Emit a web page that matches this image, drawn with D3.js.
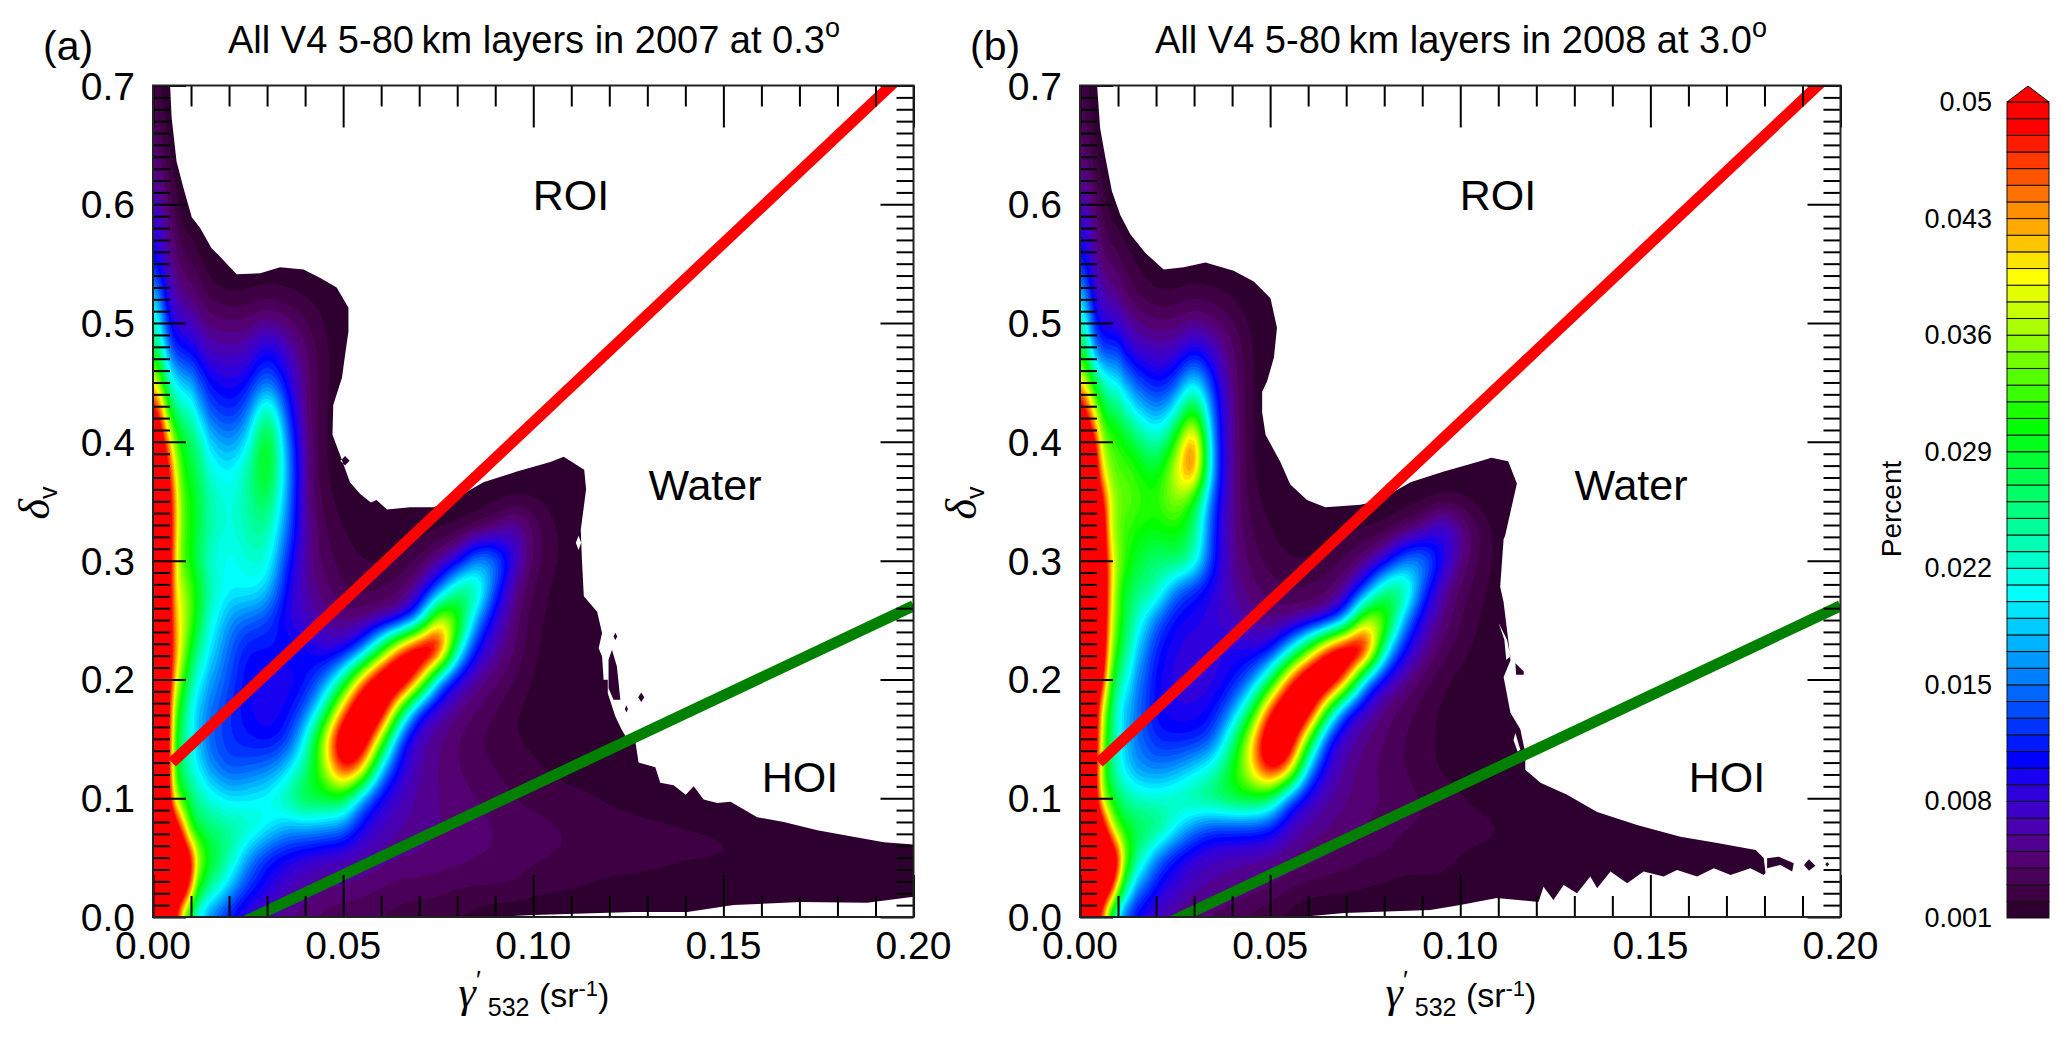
<!DOCTYPE html>
<html>
<head>
<meta charset="utf-8">
<script src="https://cdn.jsdelivr.net/npm/d3@7"></script>
<style>
  html, body { margin: 0; background: #fff; }
  text { font-family: "Liberation Sans", Arial, sans-serif; fill: #000; }
  .greek { font-family: "Liberation Serif", serif; font-style: italic; }
  .domain { display: none; }
  .tick line { stroke: #000; stroke-width: 2; }
</style>
</head>
<body>
<script>
// grid of the density fields. units of 0.001 percent
var xGrid = [0,.002,.004,.006,.008,.01,.012,.015,.02,.025,.03,.035,.04,.045,.05,.055,.06,.065,.07,.075,.08,.085,.09,.095,.1,.105,.11,.115,.12,.13,.14,.16,.18,.2];
var yGrid = [.7,.675,.65,.625,.6,.575,.55,.525,.5,.475,.45,.425,.4,.375,.35,.325,.3,.275,.25,.225,.2,.175,.15,.125,.1,.075,.05,.025,0];

var gridA = [
[3,2,1,1,1,1,1,1,1,1,1,1,1,1,1,1,1,1,1,1,1,1,1,1,1,1,1,1,1,1,1,1,1,1],
[4,2.5,1.5,1,1,1,1,1,1,1,1,1,1,1,1,1,1,1,1,1,1,1,1,1,1,1,1,1,1,1,1,1,1,1],
[4.5,3.5,2,1,1,1,1,1,1,1,1,1,1,1,1,1,1,1,1,1,1,1,1,1,1,1,1,1,1,1,1,1,1,1],
[5.5,4.5,3,1.5,1,1,1,1,1,1,1,1,1,1,1,1,1,1,1,1,1,1,1,1,1,1,1,1,1,1,1,1,1,1],
[7,6,4,2.5,1.2,1,1,1,1,1,1,1,1,1,1,1,1,1,1,1,1,1,1,1,1,1,1,1,1,1,1,1,1,1],
[9,8,5,3.5,2,2,1.3,1,1,1,1,1,1,1,1,1,1,1,1,1,1,1,1,1,1,1,1,1,1,1,1,1,1,1],
[11,9,6,4.5,3.5,3,2.5,1.2,1,1,1,1,1,1,1,1,1,1,1,1,1,1,1,1,1,1,1,1,1,1,1,1,1,1],
[18,14,8,6,5,4.5,3.8,2.6,1.8,2,2.5,2.2,1.8,1.4,1,1,1,1,1,1,1,1,1,1,1,1,1,1,1,1,1,1,1,1],
[24,19,11,8.5,7.5,7,6,4.5,4.2,4.3,5.5,4.5,3.2,2,1.2,1,1,1,1,1,1,1,1,1,1,1,1,1,1,1,1,1,1,1],
[29,25,16,12,11,10.5,9,7,6.5,7,11,7.5,4.2,2.2,1.2,1,1,1,1,1,1,1,1,1,1,1,1,1,1,1,1,1,1,1],
[40,34,24,20,18,17,14,10.5,9,10,16,10,4.5,2.2,1.2,1,1,1,1,1,1,1,1,1,1,1,1,1,1,1,1,1,1,1],
[52,46,32,26,24,23,19,13.5,11.5,14,28,13,4.5,2,1,1,1,1,1,1,1,1,1,1,1,1,1,1,1,1,1,1,1,1],
[56,54,44,34,29,27,25,18.5,15.5,19,34,16,5,2,1,1,1,1,1,1,1,1,1,1,1,1,1,1,1,1,1,1,1,1],
[60,58,50,39,31,29,27,22,19.5,24,33,18,5,2,1,1,1,1,1,1,1,1,1,1,1,1,1,1,1,1,1,1,1,1],
[60,60,54,42,33,31,28,24,21,24,29,17,5,2.5,1.5,1,1,1,1,1,1,1.2,1.6,2,2.2,1.6,1,1,1,1,1,1,1,1],
[60,60,54,42,33,31,28,24,21,24,25,15,6,3,2,1.5,1.2,1,1.5,1.8,2.2,3,4.5,7.5,3.8,2.3,1.4,1.1,1,1,1,1,1,1],
[60,60,54,40,32,30,27,22,20,22,23,12,5.5,3.5,2.5,2,1.8,2.2,3,5,7.5,17,17,8,3.5,2.2,1.4,1.2,1,1,1,1,1,1],
[60,60,54,40,37,33,30,24,20,21,19,10,6,4.5,3,2.5,3,3.5,6,13,27,27,12,5,2.7,1.8,1.3,1.2,1,1,1,1,1,1],
[60,60,54,42,38,33,29,22,16,14,13,9,7,5.5,4.5,4.5,5,6,14,42,35,16,8,4.5,2.3,1.7,1.3,1.2,1,1,1,1,1,1],
[60,60,54,44,36,30,25,20,14,10.5,11,11,11,8,8,13,29,48,60,58,23,9.5,6,4,2.1,1.6,1.3,1.2,1,1,1,1,1,1],
[60,60,54,40,32,25,21,17,13,10,9,9,10,14,24,44,58,62,44,15,8,5.5,4.3,3,1.8,1.5,1.3,1.2,1,1,1,1,1,1],
[60,60,52,33,27,21,18,15,12,10,9,10,13,23,44,60,58,30,10,7,5,4,3,2,1.6,1.5,1.3,1.2,1,1,1,1,1,1],
[60,60,52,30,25,21,18,14,12,11,10,11,20,38,58,58,36,11,6.5,5,4,3,2.5,2,1.8,1.6,1.4,1.3,1.2,1,1,1,1,1],
[60,60,52,30,25,22,20,16,13,14,15,18,25,35,52,44,17,9,6,5,4,3.5,3,2.5,2.1,1.9,1.7,1.5,1.2,1,1,1,1,1],
[60,60,52,36,30,27,24,22,19,20,21,25,30,29,29,15,9,7,5.5,5,4.5,4,3.5,3,2.6,2.3,2.2,2.1,1.8,1.2,1,1,1,1],
[60,60,60,54,44,30,28,26,25,24,21,17,17,16,15,9,7,6,5.5,5,5,4.5,4,3.6,3.6,3.2,3,2.9,2.7,2.4,2.2,1.7,1,1],
[60,60,60,60,58,52,38,30,25,16,11,9.5,8,7,6.5,6,5.5,5,5,4.5,4.5,4,4,3.5,3.2,3,2.9,2.7,2.5,2.3,2.1,2.1,1.8,1.3],
[60,60,60,60,58,46,30,26,18,12,9.5,7,6,5,5,4.5,4,3.5,3.5,3.5,3,3,3,3,2.4,2.3,2.1,1.9,1.7,1.7,1.5,1.4,1.1,1.1],
[60,58,52,48,33,24,19,14,10,7,6,5,4,3.5,3,3,2.8,2.5,2.3,2,1.8,1.5,1,1,1,1,1,1,1,1,1,1,1,1]
];

var gridB = [
[3,2,1,1,1,1,1,1,1,1,1,1,1,1,1,1,1,1,1,1,1,1,1,1,1,1,1,1,1,1,1,1,1,1],
[4,2.5,1.5,1,1,1,1,1,1,1,1,1,1,1,1,1,1,1,1,1,1,1,1,1,1,1,1,1,1,1,1,1,1,1],
[4.5,3.5,2,1,1,1,1,1,1,1,1,1,1,1,1,1,1,1,1,1,1,1,1,1,1,1,1,1,1,1,1,1,1,1],
[5.5,4.5,3,1.5,1,1,1,1,1,1,1,1,1,1,1,1,1,1,1,1,1,1,1,1,1,1,1,1,1,1,1,1,1,1],
[7,6,4,2.5,1.5,1,1,1,1,1,1,1,1,1,1,1,1,1,1,1,1,1,1,1,1,1,1,1,1,1,1,1,1,1],
[9,8,5,3.5,2.5,2.2,1.5,1,1,1,1,1,1,1,1,1,1,1,1,1,1,1,1,1,1,1,1,1,1,1,1,1,1,1],
[12,10,6,4.5,4,3.5,2.8,2,1,1,1,1,1,1,1,1,1,1,1,1,1,1,1,1,1,1,1,1,1,1,1,1,1,1],
[18,14,8,6.5,5.5,5,4,2.8,2,2,2.5,2.2,1.8,1,1,1,1,1,1,1,1,1,1,1,1,1,1,1,1,1,1,1,1,1],
[25,19,11,9,8.2,7.8,6.5,5,4,4.3,5.3,4.5,3.2,1.8,1,1,1,1,1,1,1,1,1,1,1,1,1,1,1,1,1,1,1,1],
[30,25,16,13,13,13,10,8,7,7,11,7.5,4.2,2,1,1,1,1,1,1,1,1,1,1,1,1,1,1,1,1,1,1,1,1],
[42,36,28,24,21,20,17,13.5,10,12,22,11,4.5,2,1,1,1,1,1,1,1,1,1,1,1,1,1,1,1,1,1,1,1,1],
[54,48,38,30,28,27,24,20,15.5,20,35,13,5,2,1,1,1,1,1,1,1,1,1,1,1,1,1,1,1,1,1,1,1,1],
[58,56,50,36,33,32,30,28,22,30,52,13,5,2,1,1,1,1,1,1,1,1,1,1,1,1,1,1,1,1,1,1,1,1],
[60,60,54,40,35,33,33,32,28,38,51,14,5,2,1,1,1,1,1,1,1,1,1,1,1,1,1,1,1,1,1,1,1,1],
[60,60,58,50,39,35,34,33,31,37,30,12,5,2.5,1.5,1,1,1,1,1,1,1.2,1.6,2,2.2,1.6,1,1,1,1,1,1,1,1],
[60,60,60,54,38,34,32,31,30,31,27,11,5,3,2,1.5,1.2,1,1.8,2,2.3,3.5,5,10,6,3,1.6,1.2,1,1,1,1,1,1],
[60,60,60,56,42,36,32,29,25,28,24,11,5.5,3.5,2.5,2,2,2.5,3,4.5,7,15,18,10,5,2.8,1.6,1.2,1,1,1,1,1,1],
[60,60,60,56,42,33,29,26,25,14,11,9,6,4.5,3.5,3,3,3.5,5,12,27,29,13,6,3.5,2.2,1.5,1.2,1,1,1,1,1,1],
[60,60,60,56,40,33,28,23,14,10,9.5,8,7,5.5,4.5,4.5,5,6,14,40,37,17,8,5,3,1.9,1.4,1.2,1,1,1,1,1,1],
[60,60,60,54,38,30,26,19,11,9,8,8.5,9.5,8.5,9,18,32,50,60,58,22,10,6,3.5,2.4,1.6,1.3,1.2,1,1,1,1,1,1],
[60,60,60,50,33,26,22,16,10,8.5,8,8.5,10,14,25,46,60,62,46,15,8,5.5,3.5,2.3,1.6,1.3,1.2,1,1,1,1,1,1,1],
[60,60,54,38,28,21,18,15,10,9,9,10,15,26,48,60,58,30,10,7,4.5,3.5,2.5,1.8,1.4,1.3,1.2,1,1,1,1,1,1,1],
[60,60,54,36,27,22,18,15,11.5,11,11,13,24,40,58,58,33,10,6.5,5,4,3,2.4,1.8,1.5,1.4,1.3,1,1,1,1,1,1,1],
[60,60,52,34,26,22,19,16,15,16,19,22,30,40,54,46,16,8,5.5,4.5,3.5,3,2.4,1.8,1.6,1.3,1.2,1,1,1,1,1,1,1],
[60,60,52,36,30,27,25,23,22,24,26,28,30,30,27,12,8,6,5,4.5,4,3.5,3,2.5,2.1,1.8,1.4,1.2,1,1,1,1,1,1],
[60,60,60,54,42,32,30,28,28,21,15,12,12,12,11,7,5.5,5,4.5,4,3.5,3,3,2.8,2.4,2.3,2.2,2,1.5,1,1,1,1,1],
[60,60,60,60,58,52,36,26,15,10,8,7,6.5,6,5.5,5,4.5,4,3.5,3,3,2.5,2.5,2.5,1.9,1.8,1.6,1.4,1.2,1,1,1,1,1],
[60,60,60,60,54,39,26,16,10,8,6.5,5.5,5,4.5,4,3,2.5,2.3,2.2,2,1.8,1.6,1.6,1.6,1.5,1.3,1.2,1.1,1,1,1,1,1,1],
[60,58,52,42,25,16,12,9,7,5,4,3.5,3,2.5,2,1.5,1,1,1,1,1,1,1,1,1,1,1,1,1,1,1,1,1,1]
];

// outer edge of the 0.001 contour, [x, y] in data units. first ring is the body, the rest are islands and gaps
var outlineA = [
[[0,.7],[.0045,.7],[.0049,.673],[.0062,.636],[.008,.614],[.0102,.589],[.0124,.58],[.0154,.563],[.0176,.556],[.022,.541],[.0282,.542],[.0334,.547],[.0396,.545],[.044,.538],[.0483,.53],[.0514,.513],[.0514,.493],[.0505,.473],[.0497,.454],[.0474,.431],[.0472,.406],[.0492,.389],[.0518,.366],[.0545,.356],[.0573,.349],[.0588,.351],[.0615,.343],[.0676,.345],[.0737,.345],[.0782,.35],[.0869,.366],[.0957,.375],[.1045,.383],[.108,.3875],[.1134,.3765],[.1139,.36],[.1125,.326],[.1128,.301],[.1133,.27],[.1168,.257],[.1181,.239],[.1172,.2263],[.1181,.2193],[.1185,.1997],[.1196,.1997],[.1196,.1884],[.1216,.1688],[.1233,.1575],[.1251,.1477],[.1269,.147],[.1277,.13],[.1321,.126],[.1334,.113],[.1369,.111],[.1401,.103],[.1422,.11],[.1448,.099],[.1484,.096],[.1519,.097],[.1589,.084],[.1659,.08],[.1747,.073],[.1834,.068],[.1922,.063],[.2,.061],[.2,.017],[.1878,.012],[.1703,.0126],[.1527,.01],[.1405,.0042],[.1264,.0042],[.1132,.003],[.1,.0017],[.09,0],[0,0]],
[[.1207,.2249],[.122,.2109],[.1229,.1828],[.1211,.1828],[.1198,.1926],[.1198,.2165]],
[[.1276,.185],[.1284,.189],[.1292,.185],[.1284,.181]],
[[.1211,.2362],[.1216,.2392],[.1221,.2362],[.1216,.2332]],
[[.1241,.1752],[.1245,.1782],[.1249,.1752],[.1245,.1722]],
[[.0493,.384],[.0505,.388],[.0517,.384],[.0505,.38]],
[[.1112,.315],[.1119,.321],[.1126,.315],[.1119,.309]]
];

var outlineB = [
[[0,.7],[.0045,.7],[.0053,.664],[.0067,.639],[.0084,.611],[.0106,.591],[.0132,.575],[.0172,.559],[.022,.545],[.0273,.547],[.033,.551],[.0404,.544],[.0457,.535],[.0501,.521],[.0518,.496],[.051,.471],[.0492,.451],[.0479,.442],[.0479,.425],[.0488,.406],[.0527,.383],[.0553,.364],[.0597,.351],[.0645,.345],[.0737,.347],[.0782,.35],[.0869,.366],[.0957,.375],[.1045,.383],[.1082,.3867],[.1126,.3836],[.1149,.365],[.1118,.321],[.1114,.318],[.1105,.278],[.1114,.265],[.1127,.231],[.1132,.216],[.1114,.202],[.1132,.172],[.1158,.158],[.1171,.138],[.1171,.124],[.1211,.113],[.1281,.103],[.136,.0885],[.1465,.0775],[.1579,.0675],[.1676,.0623],[.1777,.0565],[.1798,.0497],[.1803,.037],[.1798,.0354],[.1763,.041],[.1711,.0354],[.1667,.041],[.1623,.034],[.157,.0396],[.1535,.034],[.1482,.0382],[.1439,.0284],[.1395,.0382],[.136,.0242],[.1342,.034],[.1307,.02],[.1272,.027],[.1245,.0143],[.1219,.0255],[.1206,.0126],[.1096,.016],[.1,.0101],[.0921,.0059],[.0695,.0034],[.058,0],[0,0]],
[[.1101,.2474],[.1123,.2334],[.1132,.2193],[.1121,.2165],[.1116,.2334]],
[[.1145,.2137],[.1167,.2067],[.1167,.2039],[.1147,.2039]],
[[.1145,.155],[.1158,.1407],[.1151,.1392],[.114,.1491]],
[[.1807,.0494],[.1838,.0508],[.1877,.0452],[.1873,.0382],[.1842,.0438],[.1807,.041]],
[[.1904,.0438],[.1917,.0486],[.1934,.0432],[.1917,.039]],
[[.196,.0444],[.1965,.0464],[.197,.0444],[.1965,.0424]]
];

var redLine = [[.005,.13],[.2,.718]];
var greenLine = [[.02,-.0099],[.2,.262]];

var xMajor = [0,.05,.1,.15,.2];
var xMinor = [.01,.02,.03,.04,.06,.07,.08,.09,.11,.12,.13,.14,.16,.17,.18,.19];
var yMajor = [0,.1,.2,.3,.4,.5,.6,.7];
var yMinor = d3.range(0,71).filter(function(d) { return d % 10 != 0; }).map(function(d) { return d / 100; });

var titles = ["All V4 5-80\u2009km layers in 2007 at 0.3", "All V4 5-80\u2009km layers in 2008 at 3.0"];
var barLabels = [0.05,0.043,0.036,0.029,0.022,0.015,0.008,0.001];
var barLabelText = ["0.05","0.043","0.036","0.029","0.022","0.015","0.008","0.001"];
var levels = d3.range(2,50);

// rainbow of the colour bar, stops by level
var colorStops = [1,2,3,4,5,6,7,8,9,10,20,30,39,48,49];
var colorValues = ["#2d0030","#3e0042","#4a0058","#540072","#520090","#4800b0","#3e00c8","#3000dc","#1800f0","#0000ff","#00ffff","#00ff00","#ffff00","#ff0000","#ff0000"];
var color = d3.scaleLinear().domain(colorStops).range(colorValues);

var svg = d3.select("body").append("svg")
    .attr("width", 2067)
    .attr("height", 1038)
    .style("display", "block");

var top_ = 85.5, bottom_ = 917;
var y = d3.scaleLinear().domain([0,.7]).range([bottom_,top_]);

var defs = svg.append("defs");

// finer field for the contours: each grid cell split in four, then a light blur
var fine = 4;
function refine(grid) {
    var n = xGrid.length, m = yGrid.length;
    var w = (n - 1) * fine + 1, h = (m - 1) * fine + 1;
    var data = new Float64Array(w * h);
    for (var j = 0; j < h; j++) {
        var jj = Math.min(Math.floor(j / fine), m - 2), v = j / fine - jj;
        for (var i = 0; i < w; i++) {
            var ii = Math.min(Math.floor(i / fine), n - 2), u = i / fine - ii;
            data[j * w + i] = (1 - v) * ((1 - u) * grid[jj][ii] + u * grid[jj][ii + 1])
                + v * ((1 - u) * grid[jj + 1][ii] + u * grid[jj + 1][ii + 1]);
        }
    }
    d3.blur2({data: data, width: w, height: h}, 1.1, 1.1);
    return {data: data, width: w, height: h};
}

function drawPanel(id, left, grid, outline, title, letter, roi, water, hoi) {
    var x = d3.scaleLinear().domain([0,.2]).range([left,left + 760.5]);
    var g = svg.append("g");

    defs.append("clipPath").attr("id","frame" + id)
        .append("rect").attr("x",left).attr("y",top_).attr("width",760.5).attr("height",bottom_ - top_);

    var ring = d3.line().x(function(d) { return x(d[0]); }).y(function(d) { return y(d[1]); });
    var edge = outline.map(function(r) { return ring(r) + "Z"; }).join("");

    defs.append("clipPath").attr("id","edge" + id)
        .append("path").attr("d",edge).attr("clip-rule","evenodd");

    var marks = g.append("g").attr("clip-path","url(#frame" + id + ")");

    // the 0.001 band is the outline itself
    marks.append("path").attr("d",edge).attr("fill-rule","evenodd").attr("fill",color(1));

    // contours of the field, grid index -> data -> pixel
    var field = refine(grid);
    var xIdx = d3.scaleLinear().domain(d3.range(xGrid.length)).range(xGrid).clamp(true);
    var yIdx = d3.scaleLinear().domain(d3.range(yGrid.length)).range(yGrid).clamp(true);
    var contours = d3.contours().size([field.width,field.height]).thresholds(levels)(Array.from(field.data));
    var curve = d3.line()
        .x(function(d) { return x(xIdx((d[0] - .5) / fine)); })
        .y(function(d) { return y(yIdx((d[1] - .5) / fine)); });

    marks.append("g").attr("clip-path","url(#edge" + id + ")")
        .selectAll("path")
        .data(contours)
        .enter().append("path")
            .attr("fill-rule","evenodd")
            .attr("fill", function(d) { return color(d.value); })
            .attr("d", function(d) {
                return d.coordinates.map(function(poly) {
                    return poly.map(function(r) { return curve(r) + "Z"; }).join("");
                }).join("");
            });

    marks.append("path").datum(redLine).attr("d",ring)
        .attr("fill","none").attr("stroke","#ff0000").attr("stroke-width",11);
    marks.append("path").datum(greenLine).attr("d",ring)
        .attr("fill","none").attr("stroke","#008000").attr("stroke-width",11);

    // ticks on all four sides
    function side(axis, pos, vals, len) {
        g.append("g").attr("transform",pos)
            .call(axis.tickValues(vals).tickSize(len).tickFormat(""));
    }
    side(d3.axisBottom(x), "translate(0," + bottom_ + ")", xMinor, -21);
    side(d3.axisBottom(x), "translate(0," + bottom_ + ")", xMajor, -42);
    side(d3.axisTop(x), "translate(0," + top_ + ")", xMinor, -21);
    side(d3.axisTop(x), "translate(0," + top_ + ")", xMajor, -42);
    side(d3.axisLeft(y), "translate(" + left + ",0)", yMinor, -17);
    side(d3.axisLeft(y), "translate(" + left + ",0)", yMajor, -33);
    side(d3.axisRight(y), "translate(" + (left + 760.5) + ",0)", yMinor, -17);
    side(d3.axisRight(y), "translate(" + (left + 760.5) + ",0)", yMajor, -33);

    g.append("rect").attr("x",left).attr("y",top_).attr("width",760.5).attr("height",bottom_ - top_)
        .attr("fill","none").attr("stroke","#222").attr("stroke-width",2);

    g.selectAll(".xl").data(xMajor).enter().append("text")
        .attr("x",x).attr("y",959).attr("text-anchor","middle").attr("font-size",39)
        .text(function(d) { return d3.format(".2f")(d); });
    g.selectAll(".yl").data(yMajor).enter().append("text")
        .attr("x",left - 18).attr("y",function(d) { return y(d) + 14; }).attr("text-anchor","end").attr("font-size",39)
        .text(function(d) { return d3.format(".1f")(d); });

    var t = g.append("text").attr("x",left + 381).attr("y",53).attr("text-anchor","middle").attr("font-size",38).text(title);
    t.append("tspan").attr("dy",-16).attr("font-size",27).text("o");

    g.append("text").attr("x",left - 110).attr("y",60).attr("font-size",41).text(letter);

    var xt = g.append("text").attr("x",left + 381).attr("y",1007).attr("text-anchor","middle").attr("font-size",34);
    xt.append("tspan").attr("class","greek").attr("font-size",44).text("\u03b3");
    xt.append("tspan").attr("dy",-18).attr("font-size",26).text("\u2032");
    xt.append("tspan").attr("dy",27).attr("font-size",25).text(" 532");
    xt.append("tspan").attr("dy",-9).text(" (sr");
    xt.append("tspan").attr("dy",-11).attr("font-size",22).text("-1");
    xt.append("tspan").attr("dy",11).text(")");

    var yt = g.append("text").attr("transform","translate(" + (left - 104) + ",503) rotate(-90)")
        .attr("text-anchor","middle").attr("font-size",44);
    yt.append("tspan").attr("class","greek").text("\u03b4");
    yt.append("tspan").attr("dy",8).attr("font-size",25).text("v");

    [["ROI",roi[0],roi[1]],["Water",water[0],water[1]],["HOI",hoi[0],hoi[1]]].forEach(function(d) {
        g.append("text").attr("x",d[1]).attr("y",d[2]).attr("text-anchor","middle").attr("font-size",43).text(d[0]);
    });
}

drawPanel("a", 153, gridA, outlineA, titles[0], "(a)", [571,210], [705,500], [800,792]);
drawPanel("b", 1080, gridB, outlineB, titles[1], "(b)", [1498,210], [1631,500], [1727,792]);

// colour bar
var barY = d3.scaleLinear().domain([.001,.05]).range([918,102]);
var bar = svg.append("g");
bar.selectAll("rect").data(d3.range(1,50)).enter().append("rect")
    .attr("x",2007).attr("width",42)
    .attr("y",function(d) { return barY((d + 1) / 1000); })
    .attr("height",function(d) { return barY(d / 1000) - barY((d + 1) / 1000); })
    .attr("fill",function(d) { return color(d); })
    .attr("stroke","#111").attr("stroke-width",1);
bar.append("path")
    .attr("d",d3.line()([[2007,barY(.05)],[2028,barY(.05) - 16],[2049,barY(.05)]]) + "Z")
    .attr("fill","#ff0000").attr("stroke","#111").attr("stroke-width",1);
bar.selectAll("text").data(barLabels).enter().append("text")
    .attr("x",1992).attr("y",function(d) { return barY(d) + 9; })
    .attr("text-anchor","end").attr("font-size",27)
    .text(function(d,i) { return barLabelText[i]; });
bar.append("text").attr("transform","translate(1901,509) rotate(-90)")
    .attr("text-anchor","middle").attr("font-size",28).text("Percent");
</script>
</body>
</html>
